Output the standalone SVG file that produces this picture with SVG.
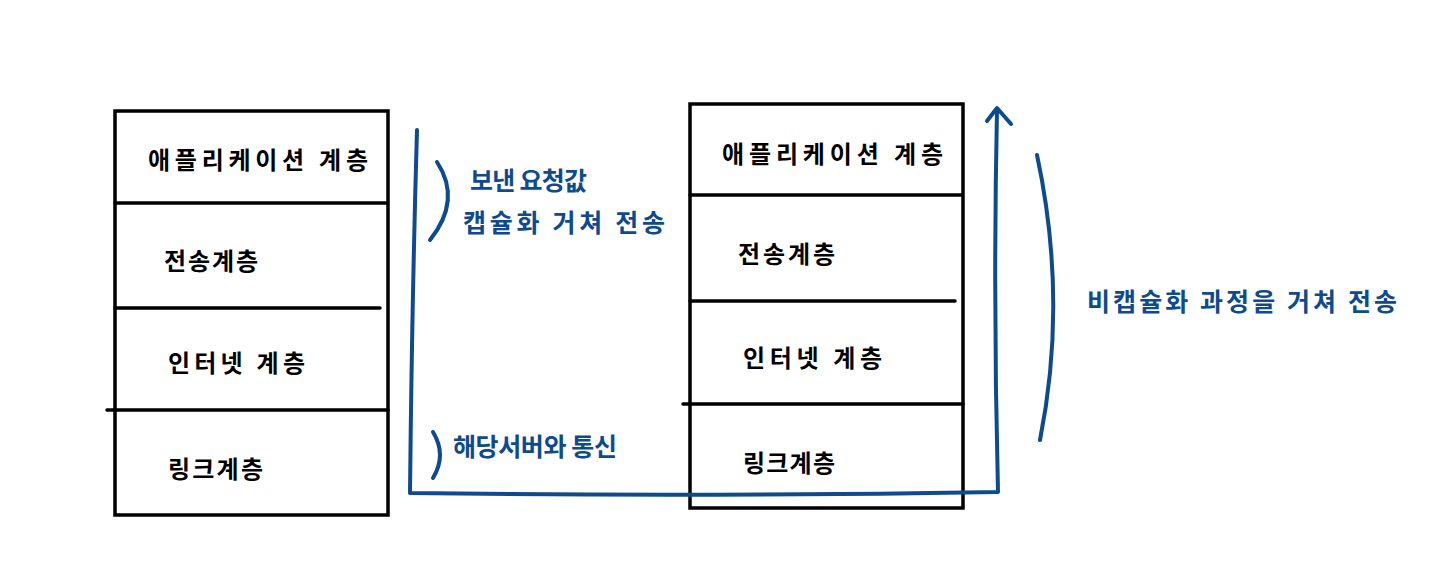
<svg xmlns="http://www.w3.org/2000/svg" width="1440" height="583" viewBox="0 0 1440 583">
<style>
.box{fill:none;stroke:#000;stroke-width:3.5;stroke-linecap:round}
.div{fill:none;stroke:#000;stroke-width:3.5;stroke-linecap:round}
.blue{fill:none;stroke:#0d4a90;stroke-width:4;stroke-linecap:round;stroke-linejoin:round}
.lt{font-family:"Noto Sans CJK KR","Noto Sans",sans-serif;font-size:24px;font-weight:700;fill:#000}
.bt{font-family:"Noto Sans CJK KR","Noto Sans",sans-serif;font-size:25px;font-weight:700;fill:#0d4a90}
</style>
<rect width="1440" height="583" fill="#fff"/>
<g id="sender">
<rect class="box" x="115" y="111" width="273" height="404"/>
<line class="div" x1="115" y1="203" x2="386" y2="203"/>
<line class="div" x1="115" y1="308" x2="380" y2="308"/>
<line class="div" x1="107" y1="410" x2="388" y2="410"/>
</g>
<g id="s-app"><text class="lt" x="148" y="169" textLength="220" lengthAdjust="spacing">애플리케이션 계층</text></g>
<g id="s-transport"><text class="lt" x="164" y="270" textLength="94" lengthAdjust="spacing">전송계층</text></g>
<g id="s-internet"><text class="lt" x="168" y="372" textLength="137" lengthAdjust="spacing">인터넷 계층</text></g>
<g id="s-link"><text class="lt" x="168" y="478" textLength="95" lengthAdjust="spacing">링크계층</text></g>
<g id="receiver">
<rect class="box" x="690" y="104" width="273" height="404"/>
<line class="div" x1="690" y1="195" x2="961" y2="195"/>
<line class="div" x1="690" y1="301" x2="955" y2="301"/>
<line class="div" x1="683" y1="404" x2="963" y2="404"/>
</g>
<g id="r-app"><text class="lt" x="722" y="163" textLength="221" lengthAdjust="spacing">애플리케이션 계층</text></g>
<g id="r-transport"><text class="lt" x="738" y="263" textLength="97" lengthAdjust="spacing">전송계층</text></g>
<g id="r-internet"><text class="lt" x="743" y="367" textLength="139" lengthAdjust="spacing">인터넷 계층</text></g>
<g id="r-link"><text class="lt" x="743" y="472" textLength="92" lengthAdjust="spacing">링크계층</text></g>
<g id="connectors">
<path class="blue" d="M417 130 Q412 300 410 493 Q700 497 998 492 Q993 300 997 109"/>
<path class="blue" d="M987 121 L997 108 L1011 124"/>
<path class="blue" d="M437 162 Q462 200 430 240"/>
<path class="blue" d="M433 432 Q447 455 433 478"/>
<path class="blue" d="M1037 155 Q1068 300 1040 440"/>
</g>
<g id="labels">
<text class="bt" x="470" y="190" textLength="117" lengthAdjust="spacing">보낸 요청값</text>
<text class="bt" x="463" y="232" textLength="202" lengthAdjust="spacing">캡슐화 거쳐 전송</text>
<text class="bt" x="453" y="456" textLength="164" lengthAdjust="spacing">해당서버와 통신</text>
<text class="bt" x="1087" y="311" textLength="310" lengthAdjust="spacing">비캡슐화 과정을 거쳐 전송</text>
</g>
</svg>
